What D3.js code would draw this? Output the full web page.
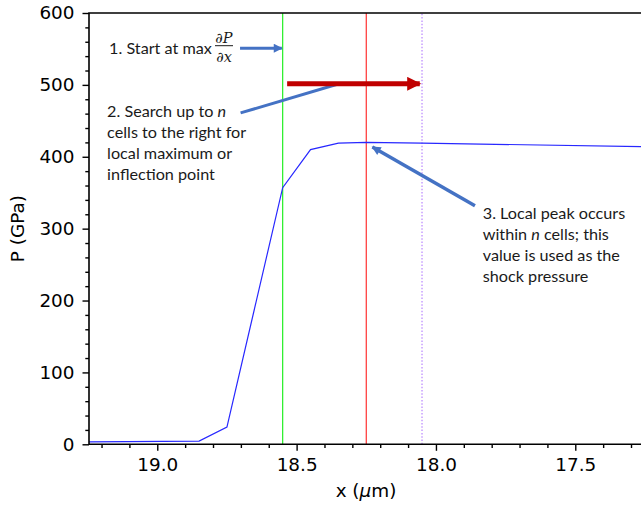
<!DOCTYPE html>
<html>
<head>
<meta charset="utf-8">
<script src="https://cdn.jsdelivr.net/npm/d3@7"></script>
<style>
  body { margin: 0; background: #fff; }
  .tick text { font-family: "DejaVu Sans", sans-serif; font-size: 18.4px; fill: #000; }
  .tick line { stroke: #000; stroke-width: 1.4px; }
  .note { font-family: Lato, "Open Sans", sans-serif; font-size: 16.2px; fill: #1a1a1a; }
</style>
</head>
<body>
<div id="chart"></div>
<script>
// pressure profile across the shock front (x in micrometres, P in GPa)
var xPos = [19.25, 18.85, 18.75, 18.55, 18.45, 18.35, 18.25, 18.05, 17.25];
var pressure = [3.5, 4.5, 24, 357, 410, 419, 420, 419, 414];

var xTicks = [19.0, 18.5, 18.0, 17.5];
var yTicks = [0, 100, 200, 300, 400, 500, 600];

// marker lines: start at max dP/dx, detected peak, search limit
var markerX = [18.55, 18.25, 18.05];
var markerColor = ['#22ee22', '#ff3030', '#b884ff'];
var markerDash = [null, null, '1.5,1.8'];

var width = 641, height = 510;
var margin = { left: 89, top: 13, right: -2, bottom: 65.7 };

var svg = d3.select('#chart').append('svg')
              .attr('width', width)
              .attr('height', height);

var x = d3.scaleLinear()
          .domain([19.245, 17.257])
          .range([margin.left, width - margin.right]);
var y = d3.scaleLinear()
          .domain([0, 600])
          .range([height - margin.bottom, margin.top]);

var x0 = x.range()[0], x1 = x.range()[1];
var y0 = y.range()[0], y1 = y.range()[1];

svg.append('clipPath').attr('id', 'plot')
   .append('rect')
   .attr('x', x0).attr('y', y1)
   .attr('width', x1 - x0).attr('height', y0 - y1);

// minor ticks
var xMinor = d3.range(19.2, 17.25, -0.1).filter(function(v) {
  return Math.abs(v * 2 - Math.round(v * 2)) > 0.01;
});
var yMinor = d3.range(0, 601, 20).filter(function(v) { return v % 100 != 0; });

svg.append('g')
   .attr('transform', 'translate(0,' + y0 + ')')
   .call(d3.axisBottom(x).tickValues(xTicks).tickSize(6.5).tickPadding(7)
           .tickFormat(d3.format('.1f')));
svg.append('g')
   .attr('transform', 'translate(0,' + y0 + ')')
   .call(d3.axisBottom(x).tickValues(xMinor).tickSize(3.7).tickFormat(''));

svg.append('g')
   .attr('transform', 'translate(' + x0 + ',0)')
   .call(d3.axisLeft(y).tickValues(yTicks).tickSize(6.5).tickPadding(8));
svg.append('g')
   .attr('transform', 'translate(' + x0 + ',0)')
   .call(d3.axisLeft(y).tickValues(yMinor).tickSize(3.7).tickFormat(''));

svg.selectAll('.domain').remove();

// vertical marker lines
svg.selectAll('.marker')
   .data(markerX).enter()
   .append('line')
   .attr('class', 'marker')
   .attr('x1', function(d) { return x(d); })
   .attr('x2', function(d) { return x(d); })
   .attr('y1', y0)
   .attr('y2', y1)
   .style('stroke', function(d, i) { return markerColor[i]; })
   .style('stroke-width', 1.2)
   .style('stroke-dasharray', function(d, i) { return markerDash[i]; });

// pressure profile
var line = d3.line()
             .x(function(d, i) { return x(xPos[i]); })
             .y(function(d) { return y(d); });

svg.append('path')
   .datum(pressure)
   .attr('d', line)
   .attr('clip-path', 'url(#plot)')
   .style('fill', 'none')
   .style('stroke', '#2828ff')
   .style('stroke-width', 1.2);

// spines (right one falls outside the picture)
svg.append('path')
   .attr('d', 'M' + x1 + ',' + y1 + 'H' + x0 + 'V' + y0 + 'H' + x1)
   .style('fill', 'none')
   .style('stroke', '#000')
   .style('stroke-width', 1.6);

// axis titles
svg.append('text')
   .attr('x', (x0 + x1) / 2)
   .attr('y', 497)
   .attr('text-anchor', 'middle')
   .style('font-family', '"DejaVu Sans", sans-serif')
   .style('font-size', '18.4px')
   .html('x (<tspan font-style="italic">\u03bc</tspan>m)');

svg.append('text')
   .attr('transform', 'translate(24,' + (y0 + y1) / 2 + ') rotate(-90)')
   .attr('text-anchor', 'middle')
   .style('font-family', '"DejaVu Sans", sans-serif')
   .style('font-size', '18.4px')
   .text('P (GPa)');

// ---- annotations ----
var blue = '#4472c4';

svg.append('defs').selectAll('marker')
   .data([['headBlue', blue], ['headRed', '#c00000']]).enter()
   .append('marker')
   .attr('id', function(d) { return d[0]; })
   .attr('viewBox', '0 0 10 10')
   .attr('refX', 9).attr('refY', 5)
   .attr('markerUnits', 'userSpaceOnUse')
   .attr('markerWidth', function(d) { return d[0] == 'headRed' ? 15 : 11; })
   .attr('markerHeight', function(d) { return d[0] == 'headRed' ? 14 : 9; })
   .attr('orient', 'auto')
   .append('path')
   .attr('d', 'M0,0L10,5L0,10Z')
   .style('fill', function(d) { return d[1]; });

function arrow(xa, ya, xb, yb, color, w, head) {
  svg.append('line')
     .attr('x1', x(xa)).attr('y1', y(ya))
     .attr('x2', x(xb)).attr('y2', y(yb))
     .style('stroke', color)
     .style('stroke-width', w)
     .attr('marker-end', head ? 'url(#' + head + ')' : null);
}

arrow(18.703, 551, 18.553, 551, blue, 3, 'headBlue');
arrow(18.701, 461, 18.348, 501.5, blue, 3, null);
arrow(18.534, 501.5, 18.058, 501.5, '#c00000', 5, 'headRed');
arrow(17.860, 332, 18.228, 413.5, blue, 3.5, 'headBlue');

function note(xv, yv, lines) {
  var t = svg.append('text').attr('class', 'note');
  lines.forEach(function(l, i) {
    t.append('tspan')
     .attr('x', x(xv))
     .attr('y', y(yv) + i * 21)
     .html(l);
  });
}

note(19.173, 542.6, ['1. Start at max']);
note(19.180, 455, ['2. Search up to <tspan font-style="italic">n</tspan>',
                   'cells to the right for',
                   'local maximum or',
                   'inflection point']);
note(17.832, 313, ['3. Local peak occurs',
                   'within <tspan font-style="italic">n</tspan> cells; this',
                   'value is used as the',
                   'shock pressure']);

// the dP/dx fraction
var fx = 224;
svg.append('text')
   .attr('x', fx).attr('y', 42.5)
   .attr('text-anchor', 'middle')
   .style('font-family', '"DejaVu Serif", serif')
   .style('font-style', 'italic')
   .style('font-size', '14.5px')
   .style('fill', '#1a1a1a')
   .text('\u2202P');
svg.append('line')
   .attr('x1', fx - 9).attr('x2', fx + 9)
   .attr('y1', 45.7).attr('y2', 45.7)
   .style('stroke', '#1a1a1a')
   .style('stroke-width', 1);
svg.append('text')
   .attr('x', fx).attr('y', 61.5)
   .attr('text-anchor', 'middle')
   .style('font-family', '"DejaVu Serif", serif')
   .style('font-style', 'italic')
   .style('font-size', '14.5px')
   .style('fill', '#1a1a1a')
   .text('\u2202x');
</script>
</body>
</html>
